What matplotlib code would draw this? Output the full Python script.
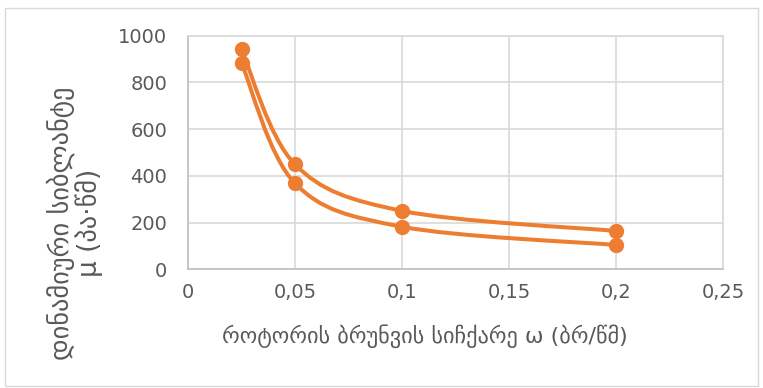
import numpy as np
import matplotlib
matplotlib.use("Agg")
from matplotlib import pyplot as plt
from matplotlib.path import Path
from matplotlib.patches import PathPatch, Rectangle

plt.rcParams['font.family'] = ['DejaVu Sans']

# data
omega = [0.025, 0.05, 0.1, 0.2]
mu_upper = [942, 449, 250, 164]
mu_lower = [884, 368, 182, 104]

x_ticks = [0, 0.05, 0.1, 0.15, 0.2, 0.25]
x_tick_labels = ["0", "0,05", "0,1", "0,15", "0,2", "0,25"]
y_ticks = [0, 200, 400, 600, 800, 1000]

x_label = "როტორის ბრუნვის სიჩქარე ω (ბრ/წმ)"
y_label = "დინამიური სიბლანტე\nμ (პა·წმ)"

orange = "#ED7D31"
grey_text = "#595959"


def smooth_path(xs, ys):
    # Excel-like smoothed line: cubic bezier segments through the points
    p = np.column_stack([xs, ys]).astype(float)
    verts = [p[0]]
    codes = [Path.MOVETO]
    n = len(p)
    for i in range(n - 1):
        prev = p[i - 1] if i > 0 else p[i]
        nxt = p[i + 2] if i + 2 < n else p[i + 1]
        c1 = p[i] + (p[i + 1] - prev) / 6.0
        c2 = p[i + 1] - (nxt - p[i]) / 6.0
        verts += [c1, c2, p[i + 1]]
        codes += [Path.CURVE4] * 3
    return Path(verts, codes)


fig = plt.figure(figsize=(7.63, 3.88), dpi=100)
fig.patches.append(Rectangle((0.006, 0.005), 0.988, 0.975, transform=fig.transFigure,
                             fill=False, edgecolor="#d9d9d9", linewidth=1))
ax = fig.add_axes([0.2464, 0.306, 0.7012, 0.602])

for ys in [mu_upper, mu_lower]:
    ax.add_patch(PathPatch(smooth_path(omega, ys), facecolor="none",
                           edgecolor=orange, linewidth=2.9, zorder=3))
    ax.plot(omega, ys, 'o', color=orange, markersize=10, zorder=4)

ax.set_xlim(0, 0.25)
ax.set_ylim(0, 1000)
ax.set_xticks(x_ticks)
ax.set_xticklabels(x_tick_labels)
ax.set_yticks(y_ticks)
ax.grid(color="#d9d9d9", linewidth=1.2)
ax.set_axisbelow(True)
for s in ax.spines.values():
    s.set_color("#d9d9d9")
    s.set_linewidth(1.2)
ax.spines['left'].set_color("#bfbfbf")
ax.spines['bottom'].set_color("#bfbfbf")
ax.tick_params(length=0, labelsize=14, labelcolor=grey_text)
ax.tick_params(axis='y', pad=15)
ax.tick_params(axis='x', pad=10)

fig.text(0.557, 0.134, x_label, ha="center", va="center", fontsize=16, color=grey_text)
fig.text(0.098, 0.425, y_label, ha="center", va="center", rotation=90,
         multialignment="center", fontsize=19, color=grey_text, linespacing=1.0)

plt.savefig("out.png", dpi=100)
plt.close()
